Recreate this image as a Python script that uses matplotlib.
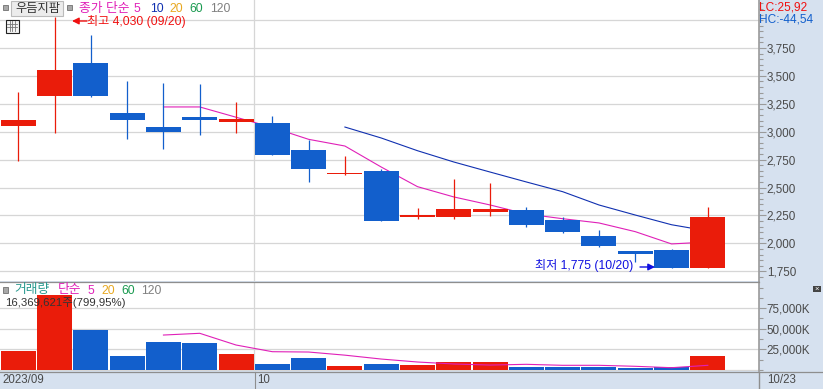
import matplotlib
matplotlib.use("Agg")
import matplotlib.pyplot as plt
from matplotlib.patches import Rectangle
from matplotlib.ticker import FuncFormatter, MultipleLocator

FONT = ['Liberation Sans', 'Noto Sans CJK KR', 'DejaVu Sans']
plt.rcParams['font.family'] = FONT

opens  = [3051,3320,3616,3168,3042,3132,3087,3078,2836,2617,2648,2236,2236,2281,2299,2209,2066,1932,1941,1780]
closes = [3105,3553,3320,3105,2998,3105,3114,2794,2666,2630,2200,2254,2308,2308,2167,2102,1977,1908,1780,2236]
highs  = [3356,4030,3866,3454,3437,3428,3266,3141,2926,2783,2666,2317,2577,2541,2326,2236,2120,1932,1950,2326]
lows   = [2738,2989,3311,2935,2845,2971,2989,2794,2550,2612,2200,2218,2218,2245,2147,2093,1968,1833,1775,1780]
ma5_idx = list(range(4, 20))
ma5    = [3222,3222,3130,3038,2932,2872,2684,2508,2416,2344,2263,2221,2183,2105,1995,2012]
ma10_idx = list(range(9, 20))
ma10   = [3042,2944,2830,2729,2639,2550,2463,2344,2254,2167,2111]
volume = [23000,90900,48500,17000,34000,32700,19400,7300,14500,4800,7300,6000,9700,9700,3600,3600,3600,2400,3600,17000]
vol_ma_idx = list(range(4, 20))
vol_ma = [42400,44500,30300,22200,21800,18000,13300,9700,7300,6000,6900,5700,5700,4500,2800,5700]
price_ticks = [1750,2000,2250,2500,2750,3000,3250,3500,3750]
vol_ticks = [25000,50000,75000]
month_labels = ['2023/09', '10']
last_label = '10/23'

RED = '#ea1c0a'; BLUE = '#125fcc'; PINK = '#e020b8'; NAVY = '#1030b0'
GRID = '#d6d6d6'; AX = '#9a9a9a'; PANEL = '#d6e1ef'; TXT = '#4a4a4a'
W, H = 823, 389
fig = plt.figure(figsize=(W/100, H/100), dpi=100, facecolor=PANEL)

def add_ax(x0, y0, x1, y1):
    return fig.add_axes([x0/W, 1-y1/H, (x1-x0)/W, (y1-y0)/H])

def px(x, y, s, color=TXT, size=8.3, **kw):
    kw.setdefault('va', 'center'); kw.setdefault('ha', 'left')
    return fig.text(x/W, 1-y/H, s, color=color, fontsize=size, family=FONT, **kw)

XLIM = (-0.504, 20.396)
ax = add_ax(0, 0, 758.5, 281)
vx = add_ax(0, 282, 758.5, 371)
x = list(range(20))

# Price panel
ax.set_xlim(*XLIM); ax.set_ylim(1663, 4180)
ax.set_xticks([])
for p in price_ticks + [4000]:
    ax.axhline(p, color=GRID, lw=0.9, zorder=1)
ax.axvline(6.5, color=GRID, lw=0.9, zorder=1)
ax.plot(ma5_idx, ma5, color=PINK, lw=0.8, zorder=2)
ax.plot(ma10_idx, ma10, color=NAVY, lw=0.8, zorder=2)
for i in x:
    up = closes[i] >= opens[i]
    c = RED if up else BLUE
    ax.vlines(i, lows[i], highs[i], color=c, lw=0.9, zorder=3)
    ax.bar(i, abs(closes[i]-opens[i]), bottom=min(opens[i], closes[i]), width=0.964, color=c, lw=0, zorder=4)
ax.yaxis.tick_right()
ax.set_yticks(price_ticks)
ax.yaxis.set_minor_locator(MultipleLocator(50))
ax.yaxis.set_major_formatter(FuncFormatter(lambda v, _: f'{int(v):,}'))
ax.tick_params(axis='y', which='major', length=5, width=0.8, color=AX, labelcolor=TXT, labelsize=8.4, pad=1)
ax.tick_params(axis='y', which='minor', length=3, width=0.8, color=AX)

# Volume panel
vx.set_xlim(*XLIM); vx.set_ylim(-1200, 106700)
vx.set_xticks([])
for v in vol_ticks + [0]:
    vx.axhline(v, color=GRID, lw=0.9, zorder=1)
vx.axvline(6.5, color=GRID, lw=0.9, zorder=1)
for i in x:
    vx.bar(i, volume[i], width=0.964, color=RED if closes[i] >= opens[i] else BLUE, lw=0, zorder=3)
vx.plot(vol_ma_idx, vol_ma, color=PINK, lw=0.8, zorder=4)
vx.yaxis.tick_right()
vx.set_yticks(vol_ticks)
vx.yaxis.set_minor_locator(MultipleLocator(12500))
vx.yaxis.set_major_formatter(FuncFormatter(lambda v, _: f'{int(v):,}K'))
vx.tick_params(axis='y', which='major', length=5, width=0.8, color=AX, labelcolor=TXT, labelsize=8.4, pad=1)
vx.tick_params(axis='y', which='minor', length=3, width=0.8, color=AX)

for a in (ax, vx):
    for s in ('left', 'top', 'bottom'):
        a.spines[s].set_visible(False)
    a.spines['right'].set_color(AX); a.spines['right'].set_linewidth(1.2)
    for lab in a.get_yticklabels():
        lab.set_va('center_baseline')

# Separators and bottom strip
LINE = '#8e8e8e'
fig.add_artist(plt.Line2D([0, 1], [1-371.5/H]*2, color=LINE, lw=0.9))
fig.add_artist(plt.Line2D([254.5/W]*2, [0, 1-371.5/H], color=LINE, lw=0.8))
fig.add_artist(plt.Line2D([758.5/W]*2, [0, 1-371.5/H], color=LINE, lw=1.0))
fig.add_artist(plt.Line2D([0, 758.5/W], [1-281.5/H]*2, color=LINE, lw=0.9))
px(2, 380, month_labels[0]); px(257, 380, month_labels[1]); px(767, 380, last_label)

# Header
def rect(x0, y0, x1, y1, fc, ec='none', lw=0.8):
    fig.add_artist(Rectangle((x0/W, 1-y1/H), (x1-x0)/W, (y1-y0)/H, transform=fig.transFigure,
                             facecolor=fc, edgecolor=ec, lw=lw, zorder=6))
rect(10.5, 1.5, 63.5, 15.5, '#ececec', '#bbbbbb')
rect(3, 5, 8, 10, '#a8a8a8', '#707070', 0.6)
rect(67, 5, 72, 10, '#a8a8a8', '#707070', 0.6)
rect(3, 287, 8, 293, '#a8a8a8', '#707070', 0.6)
rect(5.5, 19.5, 18.5, 32.5, '#f4f4f4', '#222222')
for gx in (9.5, 12, 15):
    fig.add_artist(plt.Line2D([gx/W]*2, [1-21/H, 1-31/H], color='#777777', lw=0.6, zorder=7))
for gy in (23.5, 27):
    fig.add_artist(plt.Line2D([7/W, 17/W], [1-gy/H]*2, color='#777777', lw=0.6, zorder=7))

kw = dict(zorder=8)
HY = 9
px(15, HY, '우듬지팜', '#333333', 8.8, **kw)
px(79, HY, '종가 단순', PINK, 9.2, **kw)
px(134, HY, '5', PINK, 8.8, **kw); px(150, HY, '10', NAVY, 8.8, **kw)
px(169, HY, '20', '#e8a820', 8.8, **kw); px(189, HY, '60', '#1a9a50', 8.8, **kw); px(210, HY, '120', '#808080', 8.8, **kw)
px(87, 21.5, '최고 4,030 (09/20)', '#f01010', 8.7, **kw)
ax.annotate('', xy=(72, H-21), xycoords='figure pixels', xytext=(87, H-21), textcoords='figure pixels',
            arrowprops=dict(arrowstyle='-|>', color='#f01010', lw=1, mutation_scale=10, shrinkA=0, shrinkB=0), zorder=8)
px(535, 265.5, '최저 1,775 (10/20)', '#1010e0', 8.7, **kw)
ax.annotate('', xy=(655, H-267), xycoords='figure pixels', xytext=(640, H-267), textcoords='figure pixels',
            arrowprops=dict(arrowstyle='-|>', color='#1010e0', lw=1, mutation_scale=10, shrinkA=0, shrinkB=0), zorder=8)
px(759.5, 7, 'LC:25,92', '#f01010', 8.6, **kw)
px(759.5, 20, 'HC:-44,54', BLUE, 8.6, **kw)

px(14, 290.5, '거래량', '#2a9a90', 9.2, **kw)
px(58, 290.5, '단순', PINK, 9.2, **kw)
px(87, 290.5, '5', PINK, 8.8, **kw); px(101, 290.5, '20', '#e8a820', 8.8, **kw)
px(121, 290.5, '60', '#1a9a50', 8.8, **kw); px(141, 290.5, '120', '#808080', 8.8, **kw)
px(5, 303, '16,369,621주(799,95%)', '#333333', 8.2, **kw)

rect(813, 286, 821, 292, '#444444')
px(817, 289, '×', 'white', 5.5, ha='center', **kw)

fig.savefig('out.png', dpi=100, facecolor=PANEL)
